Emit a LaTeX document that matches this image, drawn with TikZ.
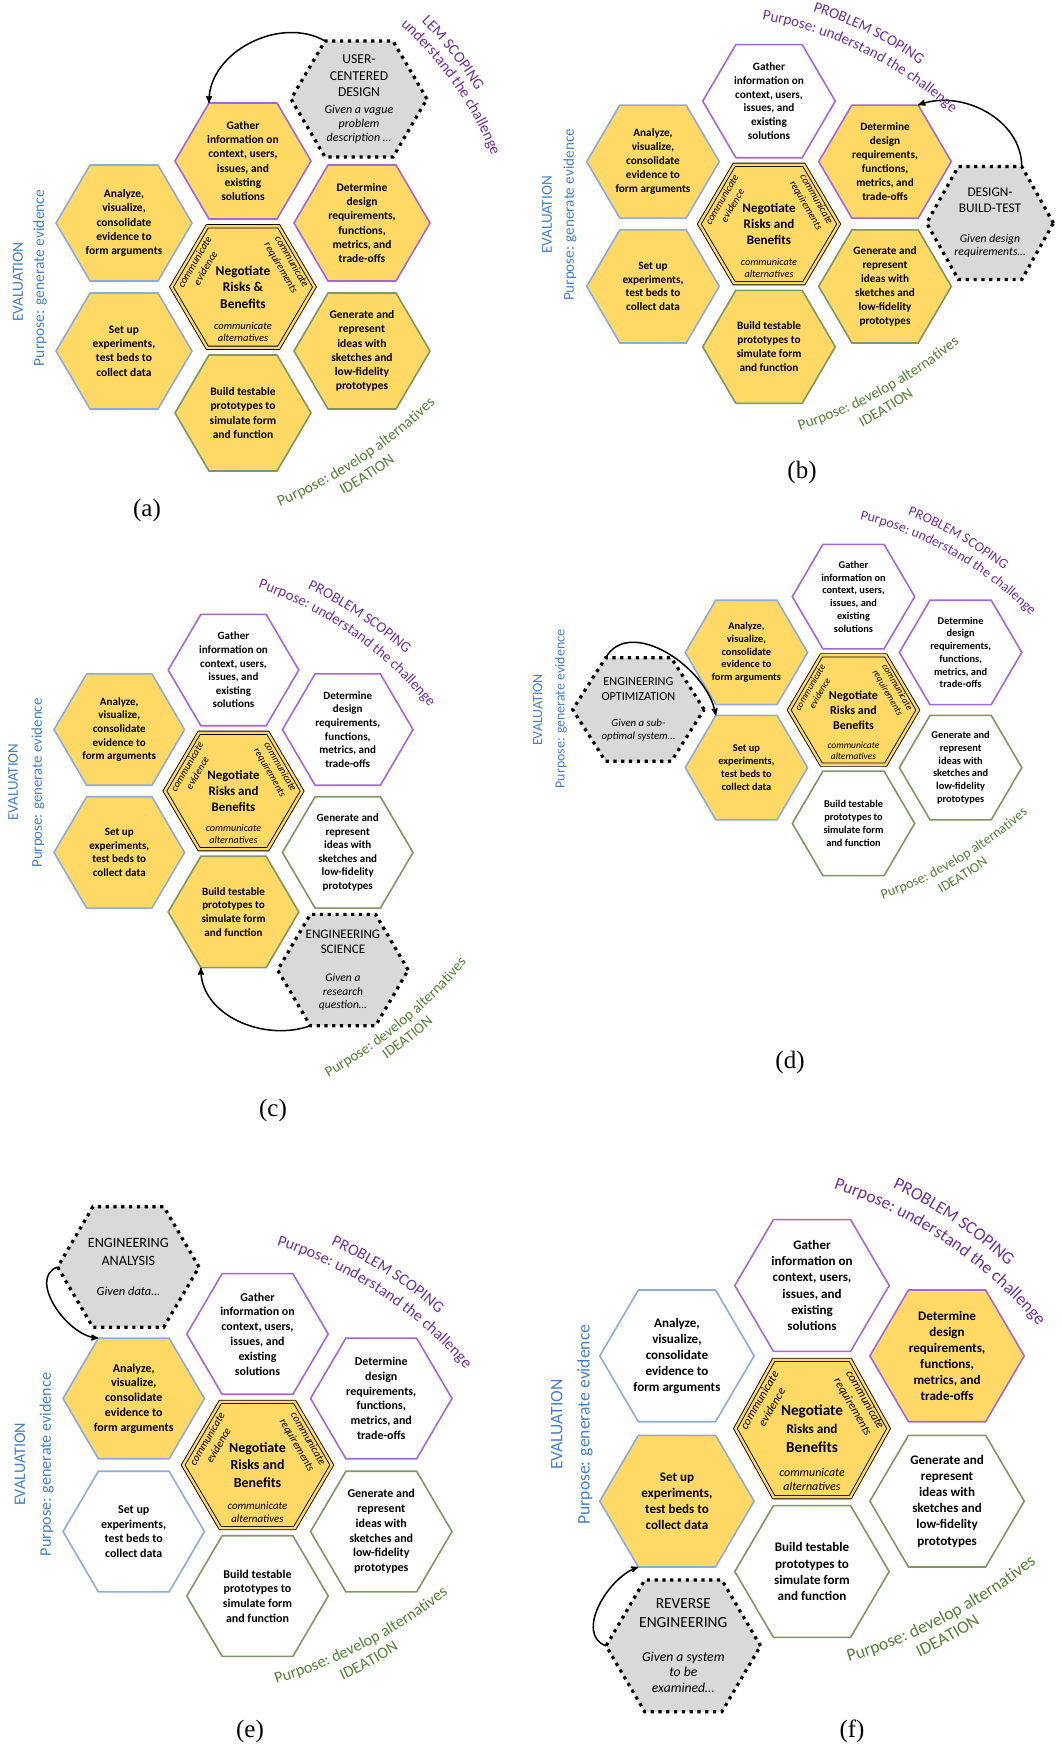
\documentclass[tikz,border=0pt]{standalone}
\usepackage{fontspec}
\setmainfont{Carlito}
\newfontfamily\capfont{Liberation Serif}
\usetikzlibrary{arrows,positioning,calc,decorations.text}

\definecolor{hexfill}{RGB}{255,217,102}
\definecolor{evalline}{RGB}{143,170,220}
\definecolor{scopeline}{RGB}{163,102,222}
\definecolor{idealine}{RGB}{128,150,100}
\definecolor{grayfill}{RGB}{217,217,217}
\definecolor{evaltxt}{RGB}{68,128,200}
\definecolor{scopetxt}{RGB}{112,48,160}
\definecolor{ideatxt}{RGB}{84,130,53}

% texts of the six cells
\newcommand{\anatxt}{Analyze,\\visualize,\\consolidate\\evidence to\\form arguments}
\newcommand{\settxt}{Set up\\experiments,\\test beds to\\collect data}
\newcommand{\gattxt}{Gather\\information on\\context, users,\\issues, and\\existing\\solutions}
\newcommand{\dettxt}{Determine\\design\\requirements,\\functions,\\metrics, and\\trade-offs}
\newcommand{\gentxt}{Generate and\\represent\\ideas with\\sketches and\\low-fidelity\\prototypes}
\newcommand{\buitxt}{Build testable\\prototypes to\\simulate form\\and function}
\newcommand{\giv}[1]{{\itshape\fontsize{12}{14}\selectfont #1}}
\def\labsize{15.5}
\newcommand{\scopelab}{\color{scopetxt}\fontsize{\labsize}{18}\selectfont}
\newcommand{\idealab}{\color{ideatxt}\fontsize{\labsize}{18}\selectfont}

% hexagon: path style, name, centre, text style, text
\def\hrx{68}
\def\hry{58}
\newcommand{\hexcell}[5]{%
  \draw[#1] (#3) ++(\hrx,0) coordinate (#2-e) -- ++(-\hrx/2,\hry) coordinate (#2-ne)
    -- ++(-\hrx,0) coordinate (#2-nw) -- ++(-\hrx/2,-\hry) coordinate (#2-w)
    -- ++(\hrx/2,-\hry) coordinate (#2-sw) -- ++(\hrx,0) coordinate (#2-se) -- cycle;
  \node[#4] (#2) at (#3) {#5};}
% curved labels: middle, angle, radius, half span, text
\newcommand{\arcup}[5]{\path[decorate,decoration={text along path,text align=center,text={#5}}]
  ($(#1)+(#2+180:#3pt)+(#2+#4:#3pt)$) arc[start angle=#2+#4,end angle=#2-#4,radius=#3pt];}
\newcommand{\arcdown}[5]{\path[decorate,decoration={text along path,text align=center,text={#5}}]
  ($(#1)+(#2+180:#3pt)+(#2-#4:#3pt)$) arc[start angle=#2-#4,end angle=#2+#4,radius=#3pt];}

\begin{document}
\begin{tikzpicture}[x=1pt, y=1pt, flow/.style={->, >=stealth', line width=1.5pt}]
\tikzstyle{cellbox}=[line width=1.6pt]
\tikzstyle{evalbox}=[cellbox, draw=evalline]
\tikzstyle{scopebox}=[cellbox, draw=scopeline]
\tikzstyle{ideabox}=[cellbox, draw=idealine]
\tikzstyle{graybox}=[draw=black, fill=grayfill, line width=3.2pt, dash pattern=on 3.2pt off 4.6pt]
\tikzstyle{corebox}=[draw=black, line width=0.9pt, double=hexfill, double distance=2.4pt, fill=hexfill]
\tikzstyle{celltext}=[align=center, font=\fontsize{11.5}{14.2}\selectfont\bfseries, transform shape]
\tikzstyle{coretext}=[align=center, font=\fontsize{13.4}{16.5}\selectfont\bfseries, transform shape]
\tikzstyle{commtext}=[align=center, font=\fontsize{10.5}{12.5}\selectfont\itshape, transform shape]
\tikzstyle{graytext}=[align=center, font=\fontsize{13.6}{16.5}\selectfont, transform shape]
\tikzstyle{evaltext}=[text=evaltxt, font=\fontsize{15.5}{18}\selectfont, rotate=90, transform shape]
\tikzstyle{caption}=[font=\capfont\fontsize{25}{30}\selectfont]

\fill[white] (0,0) rectangle (1062,-1748);
\useasboundingbox (0,0) rectangle (1062,-1748);

% (a) user-centered design
\begin{scope}[shift={(243,-287)}]
\def\labsize{15.5}
\hexcell{evalbox, fill=hexfill}{a-ana}{-119,64}{celltext}{\anatxt}
\hexcell{evalbox, fill=hexfill}{a-set}{-119,-64}{celltext}{\settxt}
\hexcell{scopebox, fill=hexfill}{a-gat}{0,126}{celltext}{\gattxt}
\hexcell{scopebox, fill=hexfill}{a-det}{119,64}{celltext}{\dettxt}
\hexcell{ideabox, fill=hexfill}{a-gen}{119,-64}{celltext}{\gentxt}
\hexcell{ideabox, fill=hexfill}{a-bui}{0,-126}{celltext}{\buitxt}
\def\hrx{71.5}\def\hry{60.7}
\hexcell{corebox}{a-neg}{0,0}{coretext}{Negotiate\\Risks \&\\Benefits}
\def\hrx{68}\def\hry{58}
\node[commtext, rotate=60] (a-cev) at (-43,22) {communicate\\evidence};
\node[commtext, rotate=-60] (a-crq) at (43,22) {communicate\\requirements};
\node[commtext] (a-cal) at (0,-45) {communicate\\alternatives};
\hexcell{graybox}{a-ucd}{116,188}{graytext}{USER-\\CENTERED\\DESIGN\\\giv{Given a vague}\\[-2.5pt]\giv{problem}\\[-2.5pt]\giv{description …}}
\draw[flow] (a-ucd-nw) to[out=150,in=90] (a-gat-nw);
\arcup{208,232.5}{38.5}{350}{25}{|\scopelab|LEM SCOPING}
\arcup{210.7,201.7}{35}{350}{30}{|\scopelab|understand the challenge}
\arcdown{119.5,-175.3}{-56.6}{500}{25}{|\idealab|Purpose: develop alternatives}
\arcdown{126.6,-192.2}{-57.5}{520}{25}{|\idealab|IDEATION}
\node[evaltext] (a-ev) at (-225,5) {EVALUATION};
\node[evaltext] (a-pu) at (-203,9) {Purpose: generate evidence};
\end{scope}

% (b) design-build-test
\begin{scope}[shift={(769,-224)}, scale=0.975]
\def\labsize{15.1}
\hexcell{evalbox, fill=hexfill}{b-ana}{-119,64}{celltext}{\anatxt}
\hexcell{evalbox, fill=hexfill}{b-set}{-119,-64}{celltext}{\settxt}
\hexcell{scopebox, fill=white}{b-gat}{0,126}{celltext}{\gattxt}
\hexcell{scopebox, fill=hexfill}{b-det}{119,64}{celltext}{\dettxt}
\hexcell{ideabox, fill=hexfill}{b-gen}{119,-64}{celltext}{\gentxt}
\hexcell{ideabox, fill=hexfill}{b-bui}{0,-126}{celltext}{\buitxt}
\def\hrx{71.5}\def\hry{60.7}
\hexcell{corebox}{b-neg}{0,0}{coretext}{Negotiate\\Risks and\\Benefits}
\def\hrx{65}\def\hry{58}
\node[commtext, rotate=60] (b-cev) at (-43,22) {communicate\\evidence};
\node[commtext, rotate=-60] (b-crq) at (43,22) {communicate\\requirements};
\node[commtext] (b-cal) at (0,-45) {communicate\\alternatives};
\hexcell{graybox}{b-dbt}{226.7,1}{graytext}{DESIGN-\\BUILD-TEST\\[13.5pt]\giv{Given design}\\[-2.5pt]\giv{requirements…}}
\def\hrx{68}\def\hry{58}
\draw[flow] (b-dbt-ne) to[out=90,in=20] (b-det-ne);
\arcup{101.8,195}{63.5}{420}{25}{|\scopelab|PROBLEM SCOPING}
\arcup{97,175.2}{63.8}{400}{30}{|\scopelab|Purpose: understand the challenge}
\arcdown{117.7,-174.7}{-61.4}{500}{25}{|\idealab|Purpose: develop alternatives}
\arcdown{122.6,-193.1}{-58.8}{520}{25}{|\idealab|IDEATION}
\node[evaltext] (b-ev) at (-227.7,9.2) {EVALUATION};
\node[evaltext] (b-pu) at (-204.1,9.2) {Purpose: generate evidence};
\end{scope}

% (c) engineering science
\begin{scope}[shift={(233.5,-791)}, scale=0.96]
\def\labsize{14.9}
\hexcell{evalbox, fill=hexfill}{c-ana}{-119,64}{celltext}{\anatxt}
\hexcell{evalbox, fill=hexfill}{c-set}{-119,-64}{celltext}{\settxt}
\hexcell{scopebox, fill=white}{c-gat}{0,126}{celltext}{\gattxt}
\hexcell{scopebox, fill=white}{c-det}{119,64}{celltext}{\dettxt}
\hexcell{ideabox, fill=white}{c-gen}{119,-64}{celltext}{\gentxt}
\hexcell{ideabox, fill=hexfill}{c-bui}{0,-126}{celltext}{\buitxt}
\def\hrx{71.5}\def\hry{60.7}
\hexcell{corebox}{c-neg}{0,0}{coretext}{Negotiate\\Risks and\\Benefits}
\def\hrx{68}\def\hry{58}
\node[commtext, rotate=60] (c-cev) at (-43,22) {communicate\\evidence};
\node[commtext, rotate=-60] (c-crq) at (43,22) {communicate\\requirements};
\node[commtext] (c-cal) at (0,-45) {communicate\\alternatives};
\hexcell{graybox}{c-sci}{114,-186.5}{graytext}{ENGINEERING\\SCIENCE\\[12.5pt]\giv{Given a}\\[-2.5pt]\giv{research}\\[-2.5pt]\giv{question…}}
\draw[flow] (c-sci-sw) to[out=200,in=270] (c-bui-sw);
\arcup{130.8,180.5}{56.4}{420}{25}{|\scopelab|PROBLEM SCOPING}
\arcup{123.3,161.8}{55}{400}{30}{|\scopelab|Purpose: understand the challenge}
\arcdown{176.4,-245.2}{-50.3}{500}{25}{|\idealab|Purpose: develop alternatives}
\arcdown{184.3,-261}{-52.1}{520}{25}{|\idealab|IDEATION}
\node[evaltext] (c-ev) at (-229.7,9.4) {EVALUATION};
\node[evaltext] (c-pu) at (-203.6,8.3) {Purpose: generate evidence};
\end{scope}

% (d) engineering optimization
\begin{scope}[shift={(853.5,-710)}, scale=0.9]
\def\labsize{14}
\hexcell{evalbox, fill=hexfill}{d-ana}{-119,64}{celltext}{\anatxt}
\hexcell{evalbox, fill=hexfill}{d-set}{-119,-64}{celltext}{\settxt}
\hexcell{scopebox, fill=white}{d-gat}{0,126}{celltext}{\gattxt}
\hexcell{scopebox, fill=white}{d-det}{119,64}{celltext}{\dettxt}
\hexcell{ideabox, fill=white}{d-gen}{119,-64}{celltext}{\gentxt}
\hexcell{ideabox, fill=white}{d-bui}{0,-126}{celltext}{\buitxt}
\def\hrx{71.5}\def\hry{60.7}
\hexcell{corebox}{d-neg}{0,0}{coretext}{Negotiate\\Risks and\\Benefits}
\def\hrx{73}\def\hry{57.5}
\node[commtext, rotate=60] (d-cev) at (-43,22) {communicate\\evidence};
\node[commtext, rotate=-60] (d-crq) at (43,22) {communicate\\requirements};
\node[commtext] (d-cal) at (0,-45) {communicate\\alternatives};
\hexcell{graybox}{d-opt}{-239,0.5}{graytext}{ENGINEERING\\OPTIMIZATION\\[12.5pt]\giv{Given a sub-}\\[-2.5pt]\giv{optimal system…}}
\def\hrx{68}\def\hry{58}
\draw[flow] (d-opt-nw) to[out=60,in=100] (d-set-nw);
\arcup{115.9,190}{60.2}{420}{25}{|\scopelab|PROBLEM SCOPING}
\arcup{109.3,171.7}{60.6}{400}{30}{|\scopelab|Purpose: understand the challenge}
\arcdown{117.7,-170.1}{-59.4}{500}{25}{|\idealab|Purpose: develop alternatives}
\arcdown{124.2,-188.1}{-57.2}{520}{25}{|\idealab|IDEATION}
\node[evaltext] (d-ev) at (-351,0) {EVALUATION};
\node[evaltext] (d-pu) at (-325,1.1) {Purpose: generate evidence};
\end{scope}

% (e) engineering analysis
\begin{scope}[shift={(257.5,-1465)}, scale=1.04]
\def\labsize{16.1}
\hexcell{evalbox, fill=hexfill}{e-ana}{-119,64}{celltext}{\anatxt}
\hexcell{evalbox, fill=white}{e-set}{-119,-64}{celltext}{\settxt}
\hexcell{scopebox, fill=white}{e-gat}{0,126}{celltext}{\gattxt}
\hexcell{scopebox, fill=white}{e-det}{119,64}{celltext}{\dettxt}
\hexcell{ideabox, fill=white}{e-gen}{119,-64}{celltext}{\gentxt}
\hexcell{ideabox, fill=white}{e-bui}{0,-126}{celltext}{\buitxt}
\def\hrx{71.5}\def\hry{60.7}
\hexcell{corebox}{e-neg}{0,0}{coretext}{Negotiate\\Risks and\\Benefits}
\def\hrx{68}\def\hry{58}
\node[commtext, rotate=60] (e-cev) at (-43,22) {communicate\\evidence};
\node[commtext, rotate=-60] (e-crq) at (43,22) {communicate\\requirements};
\node[commtext] (e-cal) at (0,-45) {communicate\\alternatives};
\hexcell{graybox}{e-ean}{-124.2,190.4}{graytext}{ENGINEERING\\ANALYSIS\\[12.5pt]\giv{Given data…}}
\draw[flow] (e-ean-w) to[out=200,in=175] (e-ana-nw);
\arcup{124.7,182.5}{57.4}{420}{25}{|\scopelab|PROBLEM SCOPING}
\arcup{117.3,164.2}{56.7}{400}{30}{|\scopelab|Purpose: understand the challenge}
\arcdown{104.8,-175.1}{-62.4}{500}{25}{|\idealab|Purpose: develop alternatives}
\arcdown{109.4,-192.9}{-60.8}{520}{25}{|\idealab|IDEATION}
\node[evaltext] (e-ev) at (-228.4,0.6) {EVALUATION};
\node[evaltext] (e-pu) at (-202.7,0.6) {Purpose: generate evidence};
\end{scope}

% (f) reverse engineering
\begin{scope}[shift={(812,-1428.5)}, scale=1.135]
\def\labsize{17.6}
\hexcell{evalbox, fill=white}{f-ana}{-119,64}{celltext}{\anatxt}
\hexcell{evalbox, fill=hexfill}{f-set}{-119,-64}{celltext}{\settxt}
\hexcell{scopebox, fill=white}{f-gat}{0,126}{celltext}{\gattxt}
\hexcell{scopebox, fill=hexfill}{f-det}{119,64}{celltext}{\dettxt}
\hexcell{ideabox, fill=white}{f-gen}{119,-64}{celltext}{\gentxt}
\hexcell{ideabox, fill=white}{f-bui}{0,-126}{celltext}{\buitxt}
\def\hrx{67.5}\def\hry{60.5}
\hexcell{corebox}{f-neg}{0,0}{coretext}{Negotiate\\{\fontsize{11.6}{14}\selectfont Risks and}\\Benefits}
\def\hrx{68}\def\hry{58}
\node[commtext, rotate=60] (f-cev) at (-41,22) {communicate\\evidence};
\node[commtext, rotate=-60] (f-crq) at (41,22) {communicate\\requirements};
\node[commtext] (f-cal) at (0,-45) {communicate\\alternatives};
\hexcell{graybox}{f-rev}{-113.4,-191.5}{graytext}{REVERSE\\ENGINEERING\\[13pt]\giv{Given a system}\\[-2.5pt]\giv{to be}\\[-2.5pt]\giv{examined…}}
\draw[flow] (f-rev-w) to[out=160,in=200] (f-set-sw);
\arcup{124.4,181.5}{56}{420}{25}{|\scopelab|PROBLEM SCOPING}
\arcup{117.5,163.2}{56}{400}{30}{|\scopelab|Purpose: understand the challenge}
\arcdown{119.2,-170}{-62.3}{500}{25}{|\idealab|Purpose: develop alternatives}
\arcdown{122.1,-187.4}{-60.2}{520}{25}{|\idealab|IDEATION}
\node[evaltext] (f-ev) at (-224.9,3.4) {EVALUATION};
\node[evaltext] (f-pu) at (-200,3.4) {Purpose: generate evidence};
\end{scope}

% captions
\node[caption] (a-cap) at (147,-510) {(a)};
\node[caption] (b-cap) at (802,-472) {(b)};
\node[caption] (c-cap) at (273,-1110) {(c)};
\node[caption] (d-cap) at (790,-1062.5) {(d)};
\node[caption] (e-cap) at (250,-1731) {(e)};
\node[caption] (f-cap) at (852,-1731) {(f)};
\end{tikzpicture}
\end{document}
